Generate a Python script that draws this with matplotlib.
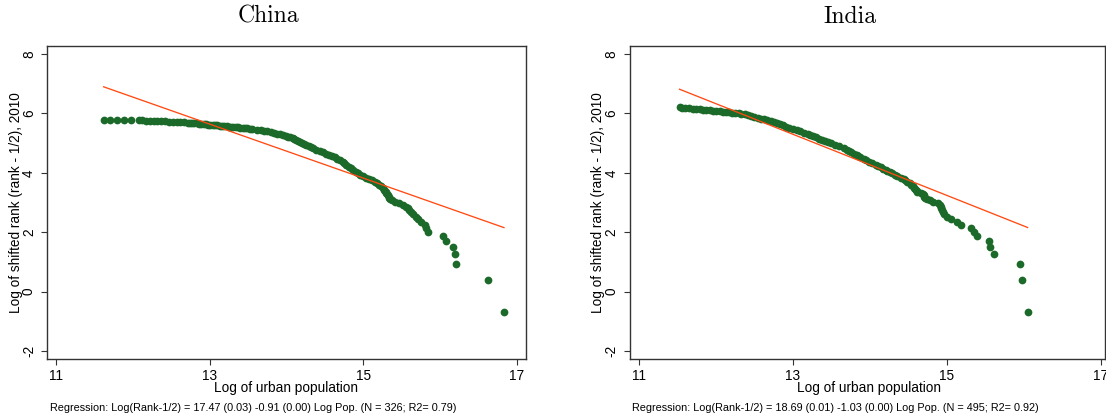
import numpy as np
import matplotlib
matplotlib.use("Agg")
import matplotlib.pyplot as plt

# ---------------- data ----------------
china_rank = ([1, 2, 3, 4, 5, 6, 7, 8, 9, 10, 11, 12, 13, 14, 15, 16, 17, 18, 19, 20,
               21, 22, 23, 24, 25, 26, 27, 28, 29, 30, 31, 33, 35, 37, 39, 41, 43, 45, 47, 49,
               51, 54, 57, 60, 64, 68, 72, 76, 80, 84, 88, 92, 96]
              + list(range(100, 236, 5))
              + list(range(240, 321, 2))
              + [321, 322, 323, 324, 325, 326])
china_logpop = ([16.83, 16.62, 16.20, 16.19, 16.17, 16.08, 16.04, 15.84, 15.82, 15.80,
                 15.75, 15.71, 15.68, 15.65, 15.62, 15.60, 15.58, 15.56, 15.51, 15.46,
                 15.41, 15.37, 15.35, 15.34, 15.33, 15.32, 15.31, 15.30, 15.29, 15.28,
                 15.27, 15.25, 15.23, 15.21, 15.18, 15.15, 15.11, 15.07, 15.03, 14.99,
                 14.96, 14.93, 14.90, 14.87, 14.84, 14.81, 14.78, 14.75, 14.73, 14.70,
                 14.66, 14.63, 14.59]
                + [14.55, 14.51, 14.47, 14.43, 14.39, 14.35, 14.32, 14.29, 14.26, 14.23,
                   14.20, 14.18, 14.15, 14.13, 14.10, 14.08, 14.05, 14.02, 13.99, 13.96,
                   13.92, 13.88, 13.84, 13.80, 13.75, 13.71, 13.67, 13.62]
                + [13.55, 13.52, 13.49, 13.46, 13.43, 13.40, 13.37, 13.34, 13.31, 13.28,
                   13.25, 13.22, 13.19, 13.16, 13.13, 13.10, 13.07, 13.04, 13.01, 12.98,
                   12.95, 12.92, 12.89, 12.86, 12.83, 12.80, 12.77, 12.75, 12.72,
                   12.67, 12.62, 12.57, 12.52, 12.47, 12.42, 12.37, 12.32, 12.27, 12.22,
                   12.17, 12.12]
                + [12.08, 11.97, 11.88, 11.80, 11.70, 11.62])

india_rank = ([1, 2, 3, 4, 5, 6, 7, 8, 9, 10, 11, 12, 13, 14, 15, 16, 17, 18, 19, 20,
               21, 22, 23, 24, 25, 26, 27, 28, 29, 30, 31, 32, 33, 35, 37, 39, 41, 43, 45, 47,
               50, 52, 54, 56, 58, 60, 63, 66, 69, 72, 76, 80, 84, 88, 92, 96, 100,
               105, 110, 115, 120, 126, 133, 140, 147, 153, 160, 167, 173, 180, 187, 193, 200]
              + list(range(210, 401, 10))
              + list(range(405, 496, 5)))
india_logpop = ([16.05, 15.98, 15.95, 15.61, 15.56, 15.55, 15.39, 15.35, 15.31, 15.18,
                 15.13, 15.06, 15.00, 14.96, 14.95, 14.94, 14.93, 14.92, 14.91, 14.88,
                 14.82, 14.78, 14.75, 14.72, 14.71, 14.70, 14.69, 14.66, 14.62, 14.61,
                 14.60, 14.59, 14.57, 14.56, 14.54, 14.52, 14.49, 14.46, 14.44, 14.41,
                 14.36, 14.33, 14.29, 14.26, 14.23, 14.21, 14.17, 14.14, 14.11, 14.08,
                 14.03, 13.99, 13.95, 13.92, 13.88, 13.85, 13.83,
                 13.79, 13.76, 13.73, 13.70, 13.66, 13.60, 13.55, 13.50, 13.46, 13.42,
                 13.38, 13.34, 13.30, 13.26, 13.23, 13.20]
                + [13.15, 13.10, 13.05, 13.00, 12.95, 12.91, 12.87, 12.83, 12.80, 12.76,
                   12.72, 12.67, 12.63, 12.59, 12.55, 12.50, 12.46, 12.42, 12.38, 12.33]
                + [12.30, 12.25, 12.21, 12.17, 12.13, 12.09, 12.05, 12.01, 11.97, 11.93,
                   11.88, 11.84, 11.79, 11.75, 11.70, 11.65, 11.60, 11.56, 11.53])

china_coef = (17.47, -0.91)
india_coef = (18.69, -1.03)

titles = ["China", "India"]
notes = ["Regression: Log(Rank-1/2) = 17.47 (0.03) -0.91 (0.00) Log Pop. (N = 326; R2= 0.79)",
         "Regression: Log(Rank-1/2) = 18.69 (0.01) -1.03 (0.00) Log Pop. (N = 495; R2= 0.92)"]
x_ticks = [11, 13, 15, 17]
y_ticks = [-2, 0, 2, 4, 6, 8]
y_ticklabels = ["-2", "0", "2", "4", "6", "8"]
x_label = "Log of urban population"
y_label = "Log of shifted rank (rank - 1/2), 2010"

# ---------------- styling ----------------
GREEN = "#1c6a2a"
RED = "#ff4a12"
FRAME = "#333333"
SANS = ["Liberation Sans", "DejaVu Sans"]
plt.rcParams["font.family"] = SANS
plt.rcParams["axes.unicode_minus"] = False

W, H = 1106, 416
fig = plt.figure(figsize=(W / 100, H / 100), dpi=100)
fig.patch.set_facecolor("white")


def fx(px):
    return px / W


def fy(py):
    return 1 - py / H


top_px, bot_px = 45.7, 359.3
panels = [
    dict(rank=china_rank, pop=china_logpop, coef=china_coef, left=47.0, right=526.0,
         xmax=17.117, title_x=268, ylab_x=16.5, note_x=50),
    dict(rank=india_rank, pop=india_logpop, coef=india_coef, left=629.7, right=1105.0,
         xmax=17.055, title_x=850, ylab_x=598, note_x=632),
]

for i, p in enumerate(panels):
    ax = fig.add_axes([fx(p["left"]), fy(bot_px), (p["right"] - p["left"]) / W,
                       (bot_px - top_px) / H])
    x = np.array(p["pop"], dtype=float)
    y = np.log(np.array(p["rank"], dtype=float) - 0.5)
    ax.scatter(x, y, s=31, color=GREEN, linewidths=0, zorder=2)
    xs = np.array([x.min(), x.max()])
    b0, b1 = p["coef"]
    ax.plot(xs, b0 + b1 * xs, color=RED, lw=0.95, zorder=3)

    ax.set_xlim(10.883, p["xmax"])
    ax.set_ylim(-2.28, 8.28)
    ax.set_xticks(x_ticks)
    ax.set_xticklabels([str(t) for t in x_ticks])
    ax.set_yticks(y_ticks)
    ax.set_yticklabels(y_ticklabels, rotation=90, va="center")
    ax.tick_params(axis="both", direction="out", length=4, width=0.8, color=FRAME,
                   labelsize=9.8, labelcolor="black")
    ax.tick_params(axis="x", pad=3)
    ax.tick_params(axis="y", pad=4)
    for s in ax.spines.values():
        s.set_color(FRAME)
        s.set_linewidth(1.0)

    fig.text(fx(p["title_x"]), fy(22.7), titles[i], family="cmr10", fontsize=17,
             ha="center", va="baseline")
    fig.text(fx(p["left"] + 239.5), fy(392), x_label, fontsize=9.8,
             ha="center", va="baseline")
    fig.text(fx(p["ylab_x"]), fy((top_px + bot_px) / 2), y_label, fontsize=9.8,
             rotation=90, ha="center", va="center")
    fig.text(fx(p["note_x"]), fy(410.7), notes[i], fontsize=7.8, ha="left", va="baseline")

fig.savefig("out.png", dpi=100, facecolor="white")
